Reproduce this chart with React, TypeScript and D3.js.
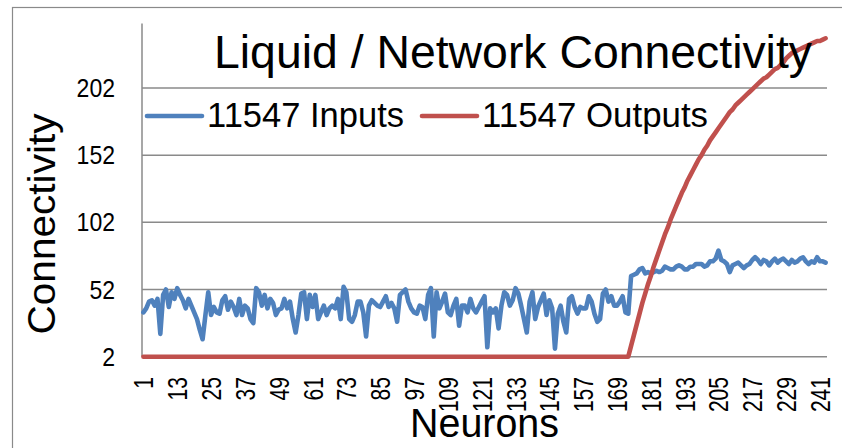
import { useEffect, useRef } from 'react'
import { line, range, scaleBand, scaleLinear, select } from 'd3'

// neuron index on the category axis
const neurons = range(1, 244)
const xTickLabels = [1, 13, 25, 37, 49, 61, 73, 85, 97, 109, 121, 133, 145, 157, 169, 181, 193, 205, 217, 229, 241]
const yTicks = [2, 52, 102, 152, 202]

const inputs = [
  35, 38, 43, 44, 40, 45, 19, 48, 52, 39, 50, 45, 53, 48, 44, 38, 45, 40, 35, 30, 22, 15, 33, 50, 33,
  39, 35, 34, 44, 47, 37, 43, 39, 33,
  45, 33, 40, 38, 30, 27, 53, 50, 40, 48, 38, 45, 42, 33, 37, 38, 45, 38, 43, 30, 20, 33, 49, 50, 30,
  48, 39, 48, 30, 35, 40, 33, 38, 40, 38,
  45, 30, 54, 50, 30, 28, 33, 43, 43, 35, 17, 40, 44, 42, 40, 39, 43, 47, 39, 42, 38, 28, 48, 50, 52,
  43, 38, 35, 34, 40, 39, 30, 48, 53, 17,
  50, 38, 43, 49, 35, 33, 40, 45, 25, 40, 40, 35, 45, 38, 35, 39, 43, 47, 9, 38, 35, 38, 23, 40, 50,
  48, 40, 44, 53, 49, 40, 30, 20, 43, 50,
  30, 39, 44, 49, 33, 44, 38, 8, 34, 40, 28, 20, 45, 47, 39, 34, 39, 38, 38, 47, 43, 34, 28, 30, 49,
  52, 43, 47, 40, 40, 43, 47, 35, 34,
  62, 63, 64, 67, 68, 64, 65, 64, 65, 66, 65, 66, 69, 68, 67, 67, 69, 70, 69, 67, 67, 69, 69, 71, 71,
  71, 69, 70, 73, 73, 75, 81, 74, 73, 71, 65, 70, 71, 72, 70, 68, 70, 71, 74, 76, 74, 71, 74, 73, 70,
  73, 75, 72, 74, 75, 73, 71, 74, 72, 73, 75, 76, 73, 71, 73, 72, 76, 73, 73, 72,
]

const outputs = [
  2, 2, 2, 2, 2, 2, 2, 2, 2, 2, 2, 2, 2, 2, 2, 2, 2, 2, 2, 2, 2, 2, 2, 2, 2,
  2, 2, 2, 2, 2, 2, 2, 2, 2, 2, 2, 2, 2, 2, 2, 2, 2, 2, 2, 2, 2, 2, 2, 2, 2,
  2, 2, 2, 2, 2, 2, 2, 2, 2, 2, 2, 2, 2, 2, 2, 2, 2, 2, 2, 2, 2, 2, 2, 2, 2,
  2, 2, 2, 2, 2, 2, 2, 2, 2, 2, 2, 2, 2, 2, 2, 2, 2, 2, 2, 2, 2, 2, 2, 2, 2,
  2, 2, 2, 2, 2, 2, 2, 2, 2, 2, 2, 2, 2, 2, 2, 2, 2, 2, 2, 2, 2, 2, 2, 2, 2,
  2, 2, 2, 2, 2, 2, 2, 2, 2, 2, 2, 2, 2, 2, 2, 2, 2, 2, 2, 2, 2, 2, 2, 2, 2,
  2, 2, 2, 2, 2, 2, 2, 2, 2, 2, 2, 2, 2, 2, 2, 2, 2, 2, 2, 2, 2, 2, 2,
  10, 18, 26, 34, 42, 49, 56, 62, 69, 75, 81, 87, 93, 98, 104, 109, 114, 119, 124, 128,
  133, 137, 141, 145, 149, 152, 156, 159, 163, 166, 169, 172, 175, 178, 181, 184, 186, 189, 191, 193,
  195, 197, 199, 201, 203, 205, 207, 209, 210, 212, 214, 216, 217, 219, 221, 224, 226, 228, 229, 230,
  231, 232, 233, 234, 235, 236, 237, 237, 238, 239,
]

const series = [
  { name: '11547 Inputs', color: '#4f81bd', values: inputs },
  { name: '11547 Outputs', color: '#c0504d', values: outputs },
]

const FONT = "'Liberation Sans', Arial, sans-serif"
const GRID = '#8a8a8a'

export default function App() {
  const ref = useRef<SVGSVGElement>(null)

  useEffect(() => {
    if (!ref.current) return
    const svg = select(ref.current)
    svg.selectAll('*').remove()

    const plot = { left: 142, right: 827, top: 23.5, bottom: 356.7 }
    const x = scaleBand<number>().domain(neurons).range([plot.left, plot.right])
    const cx = (n: number) => (x(n) ?? 0) + x.bandwidth() / 2
    const y = scaleLinear().domain([2, 250]).range([plot.bottom, plot.top])

    // chart frame
    svg
      .append('rect')
      .attr('x', 12.5)
      .attr('y', 7.5)
      .attr('width', 900)
      .attr('height', 500)
      .attr('fill', 'none')
      .attr('stroke', GRID)
      .attr('stroke-width', 1.2)

    // gridlines + axes
    svg
      .append('g')
      .selectAll('line')
      .data(yTicks)
      .join('line')
      .attr('x1', plot.left)
      .attr('x2', plot.right)
      .attr('y1', (d) => y(d))
      .attr('y2', (d) => y(d))
      .attr('stroke', GRID)
      .attr('stroke-width', 1.5)
    svg
      .append('line')
      .attr('x1', plot.left)
      .attr('x2', plot.left)
      .attr('y1', plot.top)
      .attr('y2', plot.bottom)
      .attr('stroke', GRID)
      .attr('stroke-width', 1.5)

    // y tick labels
    svg
      .append('g')
      .selectAll('text')
      .data(yTicks)
      .join('text')
      .attr('x', 115)
      .attr('y', (d) => y(d) + 9)
      .attr('text-anchor', 'end')
      .attr('font-family', FONT)
      .attr('font-size', 26)
      .attr('textLength', (d) => String(d).length * 12.8)
      .attr('lengthAdjust', 'spacingAndGlyphs')
      .text((d) => d)

    // x tick labels, rotated
    svg
      .append('g')
      .selectAll('text')
      .data(xTickLabels)
      .join('text')
      .attr('transform', (d) => `translate(${cx(d) + 10}, 377) rotate(-90)`)
      .attr('text-anchor', 'end')
      .attr('font-family', FONT)
      .attr('font-size', 28)
      .attr('textLength', (d) => String(d).length * 11.7)
      .attr('lengthAdjust', 'spacingAndGlyphs')
      .text((d) => d)

    // series lines
    const path = line<number>()
      .x((_, i) => cx(neurons[i]))
      .y((d) => y(d))
    svg
      .append('g')
      .selectAll('path')
      .data(series)
      .join('path')
      .attr('d', (d) => path(d.values))
      .attr('fill', 'none')
      .attr('stroke', (d) => d.color)
      .attr('stroke-width', 4.6)
      .attr('stroke-linejoin', 'round')
      .attr('stroke-linecap', 'round')

    // legend
    const legendPos = [
      { x1: 147, x2: 202, tx: 207, len: 197 },
      { x1: 422, x2: 477, tx: 482, len: 226 },
    ]
    const legend = svg.append('g').selectAll('g').data(series).join('g')
    legend
      .append('line')
      .attr('x1', (_, i) => legendPos[i].x1)
      .attr('x2', (_, i) => legendPos[i].x2)
      .attr('y1', 116)
      .attr('y2', 116)
      .attr('stroke', (d) => d.color)
      .attr('stroke-width', 4.6)
      .attr('stroke-linecap', 'round')
    legend
      .append('text')
      .attr('x', (_, i) => legendPos[i].tx)
      .attr('y', 127)
      .attr('font-family', FONT)
      .attr('font-size', 35)
      .attr('textLength', (_, i) => legendPos[i].len)
      .attr('lengthAdjust', 'spacingAndGlyphs')
      .text((d) => d.name)

    // titles
    svg
      .append('text')
      .attr('x', 214)
      .attr('y', 68)
      .attr('font-family', FONT)
      .attr('font-size', 46)
      .attr('textLength', 598)
      .attr('lengthAdjust', 'spacingAndGlyphs')
      .text('Liquid / Network Connectivity')
    svg
      .append('text')
      .attr('transform', 'translate(55, 224) rotate(-90)')
      .attr('text-anchor', 'middle')
      .attr('font-family', FONT)
      .attr('font-size', 39)
      .attr('textLength', 221)
      .attr('lengthAdjust', 'spacingAndGlyphs')
      .text('Connectivity')
    svg
      .append('text')
      .attr('x', 484.5)
      .attr('y', 437)
      .attr('text-anchor', 'middle')
      .attr('font-family', FONT)
      .attr('font-size', 40)
      .attr('textLength', 149)
      .attr('lengthAdjust', 'spacingAndGlyphs')
      .text('Neurons')
  }, [])

  return (
    <svg
      ref={ref}
      width={842}
      height={448}
      style={{ position: 'absolute', left: 0, top: 0, background: '#fff' }}
    />
  )
}
